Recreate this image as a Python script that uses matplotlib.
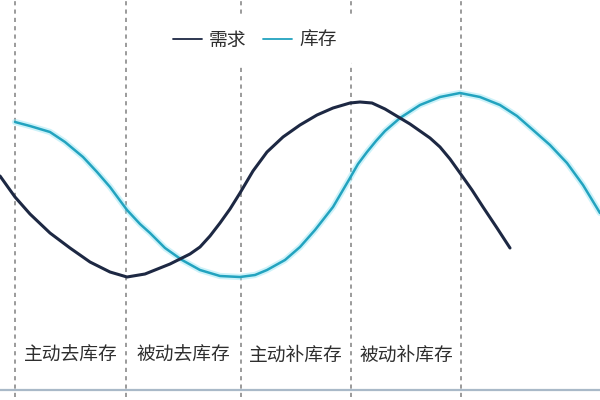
import matplotlib
matplotlib.use("Agg")
from matplotlib import pyplot as plt

plt.rcParams['font.family'] = ['Noto Sans CJK SC', 'DejaVu Sans']

# 需求曲线 (x, 高度)
demand_x = [0, 15, 30, 50, 70, 90, 110, 127, 145, 160, 170, 182, 190, 200, 210, 220, 230, 240,
            253, 267, 283, 300, 317, 333, 350, 360, 372, 385, 400, 410, 420, 430, 440, 450,
            460, 472, 483, 497, 510]
demand_y = [224, 203, 186, 167, 152, 138, 128, 123, 126, 132, 136, 142, 146, 153, 164, 177, 191, 207,
            229, 248, 263, 275, 285, 292, 297, 298, 297, 291, 282, 276, 269, 262, 253, 241,
            227, 210, 193, 172, 152]

# 库存曲线
stock_x = [15, 30, 50, 65, 83, 97, 110, 127, 140, 150, 165, 182, 200, 220, 240, 255, 267,
           285, 300, 315, 333, 350, 358, 367, 376, 385, 400, 420, 440, 460, 480, 500, 517, 533,
           550, 567, 583, 600]
stock_y = [278, 274, 268, 258, 243, 228, 213, 190, 176, 167, 152, 140, 130, 124, 123, 125, 130,
           140, 153, 170, 193, 222, 236, 248, 259, 269, 282, 295, 303, 307, 303, 295, 284, 270,
           255, 237, 215, 187]

# 阶段分界和名称
phase_bounds = [15, 126, 241, 351, 461]
phase_names = ["主动去库存", "被动去库存", "主动补库存", "被动补库存"]

fig = plt.figure(figsize=(6, 4), dpi=100)
ax = fig.add_axes([0, 0, 1, 1])
ax.set_xlim(0, 600)
ax.set_ylim(0, 400)
ax.axis("off")

for b in phase_bounds:
    ax.plot([b, b], [3, 400], color="#8a8a8a", lw=1.2, linestyle=(0, (2.5, 2.5)), zorder=1)

ax.axhline(10, color="#a9b9c8", lw=1.6, zorder=1)

ax.plot(stock_x, stock_y, color="#8fe3f2", lw=4.5, alpha=0.45, solid_capstyle="round",
        solid_joinstyle="round", zorder=2)
ln_stock, = ax.plot(stock_x, stock_y, color="#22a3bf", lw=1.8, solid_capstyle="round",
                    solid_joinstyle="round", zorder=3)
ln_demand, = ax.plot(demand_x, demand_y, color="#1d2843", lw=2.2, solid_capstyle="round",
                     solid_joinstyle="round", zorder=4)

for i, name in enumerate(phase_names):
    xc = (phase_bounds[i] + phase_bounds[i + 1]) / 2
    ax.text(xc, 45, name, ha="center", va="center", fontsize=13.5, color="#2e2e2e", zorder=5)

leg = ax.legend([ln_demand, ln_stock], ["需求", "库存"], ncol=2, loc="center",
                bbox_to_anchor=(0.425, 0.9), fontsize=13.5, frameon=True,
                handlelength=1.5, handletextpad=0.4, columnspacing=0.9,
                borderpad=0.8)
leg.get_frame().set_facecolor("white")
leg.get_frame().set_edgecolor("none")
leg.get_frame().set_alpha(1)
for t in leg.get_texts():
    t.set_color("#2e2e2e")
for h in leg.get_lines():
    h.set_linewidth(1.3)

fig.savefig("out.png", dpi=100, facecolor="white")
